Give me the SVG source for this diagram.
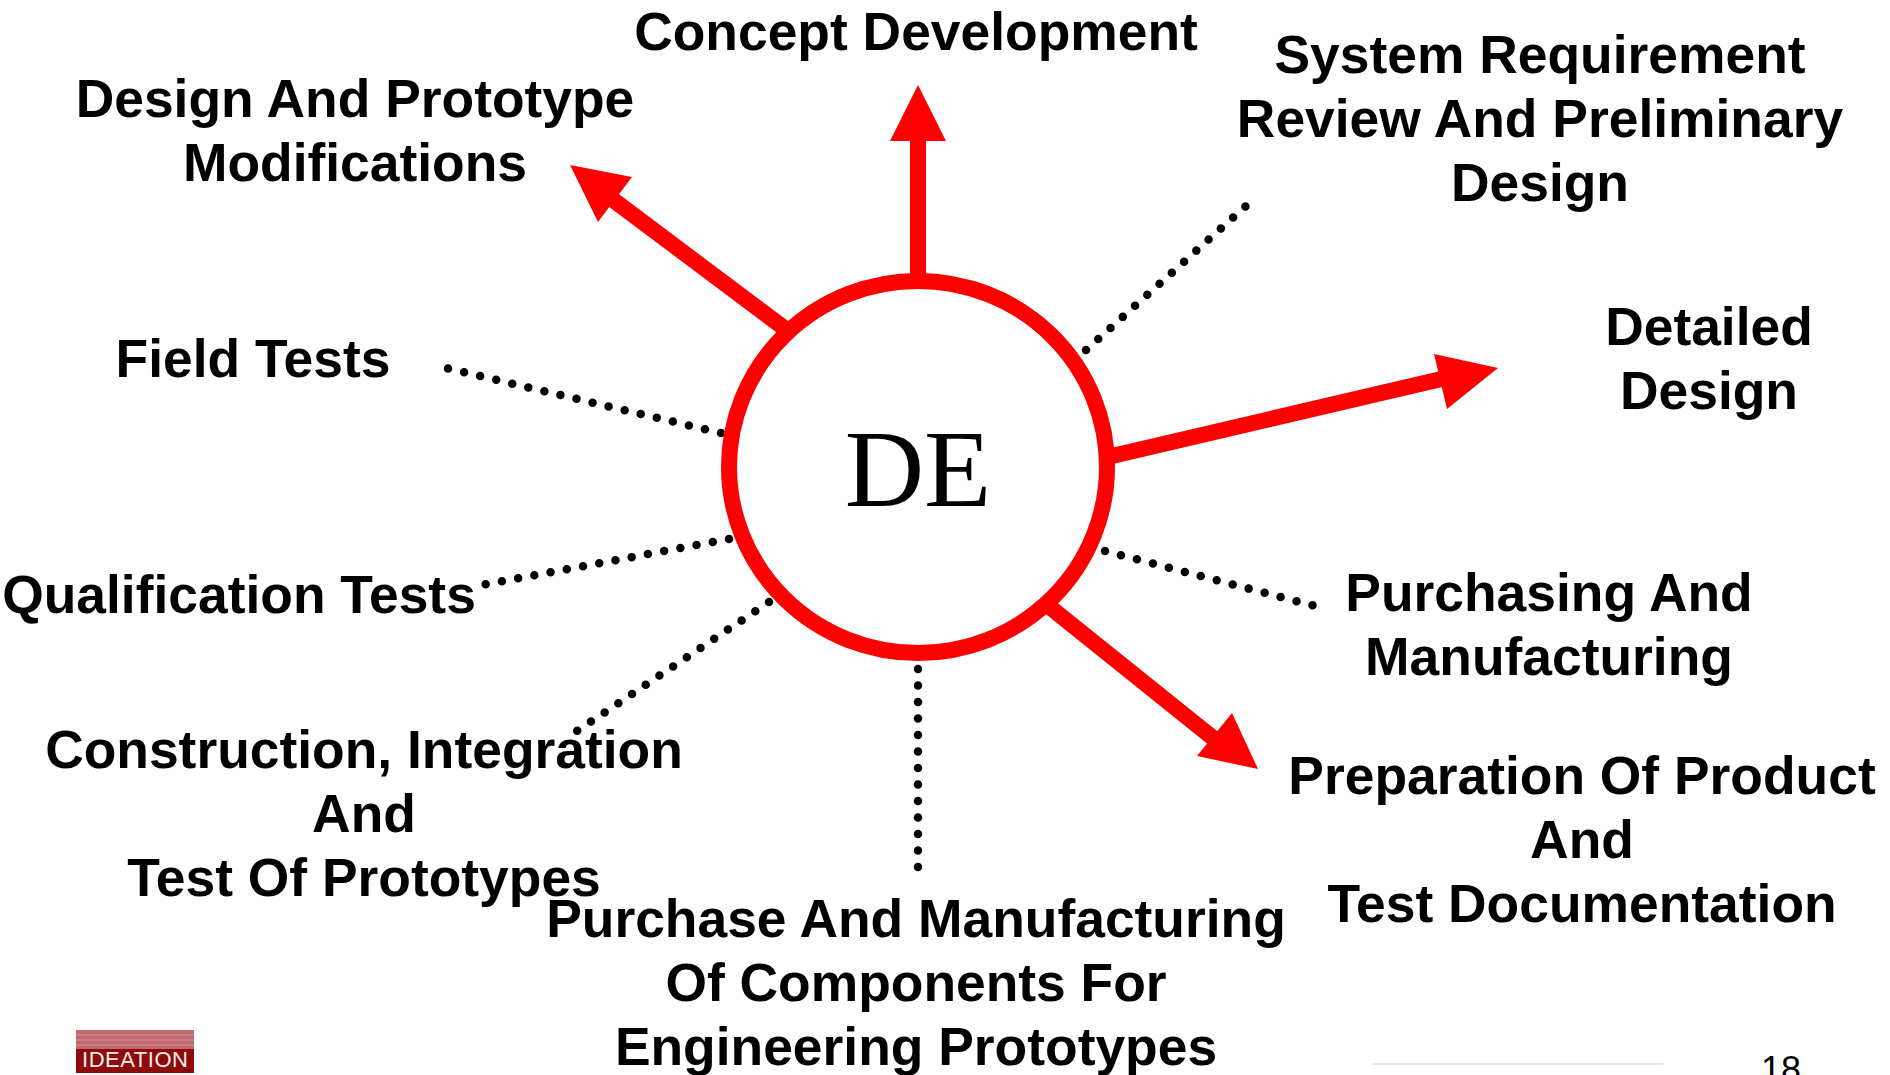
<svg xmlns="http://www.w3.org/2000/svg" width="1890" height="1075" viewBox="0 0 1890 1075">
<style>
text{font-family:"Liberation Sans",Arial,sans-serif}
.l{font-weight:700;font-size:53.4px;fill:#000;text-anchor:middle}
.a{stroke:#f00;stroke-width:16;fill:none}
.h{fill:#f00}
.d{stroke:#000;stroke-width:8.5;stroke-linecap:round;stroke-dasharray:0 16.5;fill:none}
</style>
<rect width="1890" height="1075" fill="#fff"/>
<g id="connectors">
<line class="a" x1="918" y1="280" x2="918" y2="135"/><polygon class="h" points="918,85 946,141 890,141"/>
<line class="a" x1="784" y1="328" x2="600" y2="190"/><polygon class="h" points="570,165 632,177 598,222"/>
<line class="a" x1="1112" y1="456" x2="1450" y2="377"/><polygon class="h" points="1498,368 1447,409 1434,354"/>
<line class="a" x1="1051" y1="608" x2="1218" y2="742"/><polygon class="h" points="1258,769 1197,756 1232,713"/>
<line class="d" x1="1086" y1="350" x2="1247" y2="205"/>
<line class="d" x1="721" y1="433" x2="446" y2="368"/>
<line class="d" x1="1105" y1="551" x2="1315" y2="606"/>
<line class="d" x1="729" y1="539" x2="482" y2="585"/>
<line class="d" x1="769" y1="602" x2="574" y2="733"/>
<line class="d" x1="918" y1="669" x2="918" y2="868"/>
</g>
<g id="de"><ellipse cx="918" cy="467" rx="189" ry="186" fill="#fff" stroke="#f00" stroke-width="16"/>
<text x="918" y="506" text-anchor="middle" style="font-family:'Liberation Serif',serif;font-size:110px">DE</text></g>
<g id="n1"><text class="l" x="916" y="50">Concept Development</text></g>
<g id="n2"><text class="l" x="355" y="117">Design And Prototype</text><text class="l" x="355" y="181">Modifications</text></g>
<g id="n3"><text class="l" x="1540" y="73">System Requirement</text><text class="l" x="1540" y="137">Review And Preliminary</text><text class="l" x="1540" y="201">Design</text></g>
<g id="n4"><text class="l" x="1709" y="345">Detailed</text><text class="l" x="1709" y="409">Design</text></g>
<g id="n5"><text class="l" x="253" y="377">Field Tests</text></g>
<g id="n6"><text class="l" x="239" y="613">Qualification Tests</text></g>
<g id="n7"><text class="l" x="1549" y="611">Purchasing And</text><text class="l" x="1549" y="675">Manufacturing</text></g>
<g id="n8"><text class="l" x="364" y="768">Construction, Integration</text><text class="l" x="364" y="832">And</text><text class="l" x="364" y="896">Test Of Prototypes</text></g>
<g id="n9"><text class="l" x="1582" y="794">Preparation Of Product</text><text class="l" x="1582" y="858">And</text><text class="l" x="1582" y="922">Test Documentation</text></g>
<g id="n10"><text class="l" x="916" y="937">Purchase And Manufacturing</text><text class="l" x="916" y="1001">Of Components For</text><text class="l" x="916" y="1065">Engineering Prototypes</text></g>
<g id="logo"><rect x="76" y="1030" width="118" height="43" fill="#8f0a0a"/><rect x="76" y="1030" width="118" height="19" fill="#c0686c"/>
<path d="M76 1035h118M76 1040h118M76 1045h118" stroke="#d99a9c" stroke-width="1"/>
<text x="135" y="1067" text-anchor="middle" textLength="106" lengthAdjust="spacing" style="font-size:22px" fill="#eee">IDEATION</text></g>
<g id="footer"><line x1="1373" y1="1064" x2="1663" y2="1064" stroke="#ccd" stroke-width="1"/>
<text x="1781" y="1082" text-anchor="middle" style="font-size:36px">18</text></g>
</svg>
